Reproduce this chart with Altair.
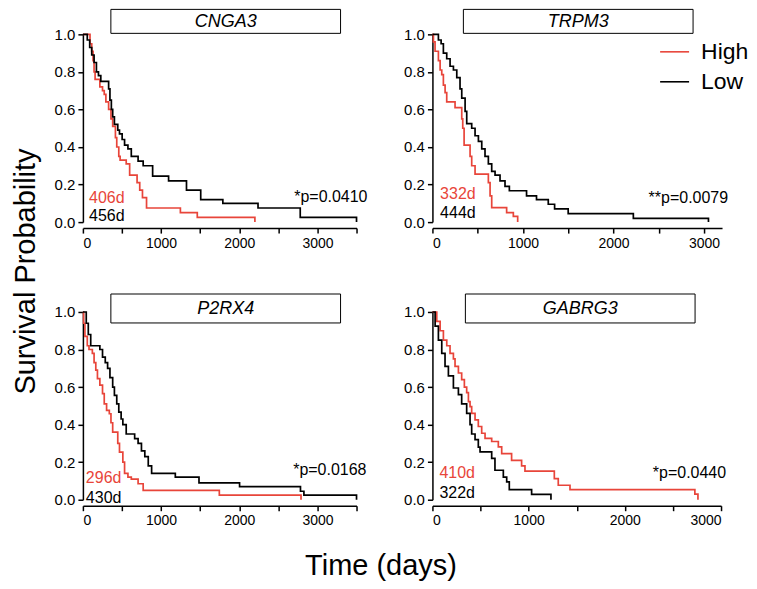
import altair as alt
import pandas as pd

RED = "#e8453a"
BLACK = "#000000"
FONT = "Liberation Sans"

genes = ["CNGA3", "TRPM3", "P2RX4", "GABRG3"]
x_max = [3500, 3200, 3500, 3000]
widths = [274, 290, 274, 289]
high_median = ["406d", "332d", "296d", "410d"]
low_median = ["456d", "444d", "430d", "322d"]
p_values = ["*p=0.0410", "**p=0.0079", "*p=0.0168", "*p=0.0440"]

# annotation anchors in data coordinates (days, probability)
med_x = [78, 85, 38, 73]
med_high_y = [0.127, 0.147, 0.117, 0.144]
med_low_y = [0.03, 0.048, 0.01, 0.037]
p_x = [3640, 3267, 3627, 3053]
p_y = [0.131, 0.129, 0.156, 0.14]

# Kaplan-Meier curves (time in days, survival probability)
cnga3_high_t = [0, 91, 113, 130, 143, 156, 217, 251, 273, 294, 329, 359, 381, 416, 433, 459, 476, 554, 598, 693, 727, 762, 814, 1247, 1463, 2200]
cnga3_high_s = [1.0, 0.95, 0.91, 0.86, 0.80, 0.76, 0.72, 0.70, 0.68, 0.64, 0.60, 0.55, 0.51, 0.45, 0.40, 0.35, 0.33, 0.31, 0.25, 0.21, 0.17, 0.13, 0.075, 0.05, 0.025, 0.0]
cnga3_low_t = [0, 56, 87, 113, 143, 173, 199, 229, 329, 346, 364, 381, 403, 446, 468, 502, 533, 576, 619, 706, 771, 892, 1096, 1325, 1507, 1790, 2240, 2780, 3500]
cnga3_low_s = [1.0, 0.97, 0.93, 0.89, 0.85, 0.80, 0.78, 0.75, 0.71, 0.65, 0.60, 0.56, 0.52, 0.49, 0.47, 0.44, 0.41, 0.39, 0.35, 0.325, 0.30, 0.245, 0.22, 0.17, 0.12, 0.10, 0.075, 0.025, 0.0]

trpm3_high_t = [0, 11, 29, 66, 85, 103, 121, 140, 158, 250, 324, 335, 350, 416, 434, 471, 618, 637, 655, 820, 894, 942]
trpm3_high_s = [1.0, 0.96, 0.91, 0.86, 0.81, 0.785, 0.73, 0.69, 0.64, 0.61, 0.55, 0.50, 0.41, 0.35, 0.30, 0.256, 0.21, 0.14, 0.077, 0.05, 0.03, 0.0]
trpm3_low_t = [0, 66, 96, 121, 158, 195, 232, 269, 305, 324, 361, 379, 434, 471, 508, 545, 581, 618, 655, 692, 747, 802, 850, 1040, 1150, 1280, 1350, 1500, 2220, 3050]
trpm3_low_s = [1.0, 0.97, 0.95, 0.90, 0.87, 0.83, 0.81, 0.77, 0.71, 0.66, 0.59, 0.525, 0.50, 0.46, 0.43, 0.39, 0.35, 0.31, 0.27, 0.25, 0.22, 0.19, 0.167, 0.14, 0.12, 0.095, 0.07, 0.045, 0.02, 0.0]

p2rx4_high_t = [0, 9, 26, 56, 78, 121, 143, 165, 186, 217, 251, 273, 303, 338, 359, 381, 446, 468, 511, 533, 576, 619, 706, 771, 1745, 2790]
p2rx4_high_s = [1.0, 0.94, 0.87, 0.82, 0.80, 0.78, 0.73, 0.69, 0.645, 0.61, 0.565, 0.51, 0.476, 0.458, 0.41, 0.36, 0.30, 0.254, 0.20, 0.14, 0.12, 0.11, 0.085, 0.05, 0.025, 0.0]
p2rx4_low_t = [0, 43, 69, 100, 217, 251, 286, 316, 346, 381, 403, 433, 459, 489, 511, 554, 662, 706, 749, 792, 836, 879, 1182, 1485, 2004, 2783, 2827, 3500]
p2rx4_low_s = [1.0, 0.94, 0.88, 0.82, 0.80, 0.76, 0.73, 0.70, 0.65, 0.60, 0.556, 0.51, 0.467, 0.43, 0.40, 0.35, 0.325, 0.30, 0.26, 0.23, 0.18, 0.14, 0.12, 0.09, 0.07, 0.045, 0.025, 0.0]

gabrg3_high_t = [0, 45, 80, 114, 149, 183, 218, 235, 270, 304, 332, 356, 374, 391, 408, 443, 477, 512, 547, 616, 685, 720, 823, 927, 962, 1267, 1308, 1430, 2728, 2760]
gabrg3_high_s = [1.0, 0.95, 0.90, 0.85, 0.82, 0.78, 0.75, 0.71, 0.675, 0.64, 0.60, 0.57, 0.523, 0.496, 0.46, 0.425, 0.39, 0.354, 0.327, 0.31, 0.282, 0.246, 0.21, 0.18, 0.152, 0.112, 0.077, 0.054, 0.03, 0.0]
gabrg3_low_t = [0, 28, 62, 97, 131, 166, 218, 270, 304, 356, 391, 408, 443, 477, 495, 616, 650, 737, 772, 799, 1031, 1232]
gabrg3_low_s = [1.0, 0.925, 0.85, 0.78, 0.71, 0.66, 0.595, 0.56, 0.51, 0.46, 0.40, 0.35, 0.32, 0.28, 0.255, 0.22, 0.157, 0.12, 0.095, 0.054, 0.029, 0.0]

curves = [
    (cnga3_high_t, cnga3_high_s, cnga3_low_t, cnga3_low_s),
    (trpm3_high_t, trpm3_high_s, trpm3_low_t, trpm3_low_s),
    (p2rx4_high_t, p2rx4_high_s, p2rx4_low_t, p2rx4_low_s),
    (gabrg3_high_t, gabrg3_high_s, gabrg3_low_t, gabrg3_low_s),
]

# title box geometry (pixels relative to each plot area)
box_x = [28, 31, 28, 33]
box_y = [-25, -25, -18, -18]
box_y2 = [-1, -1, 11, 11]

PLOT_H = 188

color_scale = alt.Scale(domain=["High", "Low"], range=[RED, BLACK])
legend = alt.Legend(
    orient="none", legendX=577, legendY=2, title=None,
    symbolType="stroke", symbolSize=841, symbolStrokeWidth=1.6,
    labelFontSize=23, labelFont=FONT, labelColor="black",
    labelOffset=11, rowPadding=2, padding=0,
)


def panel(i):
    th, sh, tl, sl = curves[i]
    df = pd.concat([
        pd.DataFrame({"t": th, "s": sh, "group": "High"}),
        pd.DataFrame({"t": tl, "s": sl, "group": "Low"}),
    ])
    xs = alt.Scale(domain=[0, x_max[i]], nice=False, zero=True)
    ys = alt.Scale(domain=[0, 1], nice=False)

    x_axis_kw = dict(
        values=list(range(0, x_max[i] + 1, 500)),
        format="d",
        labelExpr="datum.value % 1000 === 0 ? datum.label : ''",
        offset=6, grid=False, labelFontSize=14,
    )
    if i == 2:
        x_axis = alt.Axis(title="Time (days)", titleX=298, titleY=69, titleAngle=0,
                          titleAlign="center", titleBaseline="alphabetic",
                          titleFontSize=29, titleFont=FONT, titleFontWeight="normal",
                          titleColor="black", **x_axis_kw)
    else:
        x_axis = alt.Axis(title=None, **x_axis_kw)

    y_axis_kw = dict(values=[0, 0.2, 0.4, 0.6, 0.8, 1.0], format=".1f", grid=False, labelFontSize=15)
    if i == 0:
        y_axis = alt.Axis(title="Survival Probability", titleX=-57, titleY=237,
                          titleAngle=270, titleAlign="center", titleBaseline="middle",
                          titleFontSize=29, titleFont=FONT, titleFontWeight="normal",
                          titleColor="black", **y_axis_kw)
    else:
        y_axis = alt.Axis(title=None, **y_axis_kw)

    lines = alt.Chart(df).mark_line(interpolate="step-after", strokeWidth=1.7).encode(
        x=alt.X("t:Q", scale=xs, axis=x_axis),
        y=alt.Y("s:Q", scale=ys, axis=y_axis),
        color=alt.Color("group:N", scale=color_scale, legend=legend),
    )

    ann = pd.DataFrame({
        "t": [med_x[i], med_x[i]],
        "s": [med_high_y[i], med_low_y[i]],
        "label": [high_median[i], low_median[i]],
        "group": ["High", "Low"],
    })
    med_text = alt.Chart(ann).mark_text(align="left", baseline="middle", fontSize=16, font=FONT).encode(
        x=alt.X("t:Q", scale=xs, axis=x_axis),
        y=alt.Y("s:Q", scale=ys, axis=y_axis),
        text="label:N",
        color=alt.Color("group:N", scale=color_scale, legend=legend),
    )

    pdf = pd.DataFrame({"t": [p_x[i]], "s": [p_y[i]], "label": [p_values[i]]})
    p_text = alt.Chart(pdf).mark_text(align="right", baseline="middle", fontSize=16, font=FONT, color="black").encode(
        x=alt.X("t:Q", scale=xs, axis=x_axis),
        y=alt.Y("s:Q", scale=ys, axis=y_axis),
        text="label:N",
    )

    gdf = pd.DataFrame({"gene": [genes[i]]})
    box = alt.Chart(gdf).mark_rect(fill="white", stroke="black", strokeWidth=1).encode(
        x=alt.value(box_x[i]), x2=alt.value(box_x[i] + 230),
        y=alt.value(box_y[i]), y2=alt.value(box_y2[i]),
    )
    title = alt.Chart(gdf).mark_text(fontStyle="italic", fontSize=18, font=FONT, color="black",
                                     baseline="middle", align="center").encode(
        x=alt.value(box_x[i] + 115),
        y=alt.value((box_y[i] + box_y2[i]) / 2 + 1),
        text="gene:N",
    )

    return alt.layer(lines, med_text, p_text, box, title).properties(width=widths[i], height=PLOT_H)


chart = alt.ConcatChart(
    concat=[panel(0), panel(1), panel(2), panel(3)],
    columns=2,
    spacing={"row": 90, "column": 76},
    bounds="flush",
).properties(padding={"left": 4, "top": 0, "right": 0, "bottom": 0}).configure_view(stroke=None).configure_axis(
    labelFont=FONT, labelColor="black", labelPadding=3,
    domainColor="black", domainWidth=1.5, tickColor="black", tickWidth=1.5, tickSize=5,
)

chart.save("out.html", embed_options={"renderer": "svg", "actions": False})
